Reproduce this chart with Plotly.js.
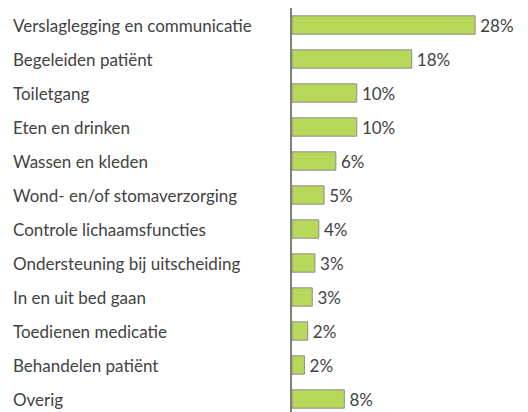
<!DOCTYPE html>
<html>
<head>
<meta charset="utf-8">
<script src="https://cdn.plot.ly/plotly-3.0.1.min.js"></script>
<style>html,body{margin:0;padding:0;background:#fff;}#chart{width:528px;height:412px;}</style>
</head>
<body>
<div id="chart"></div>
<script>
const categories = [
  "Verslaglegging en communicatie",
  "Begeleiden patiënt",
  "Toiletgang",
  "Eten en drinken",
  "Wassen en kleden",
  "Wond- en/of stomaverzorging",
  "Controle lichaamsfuncties",
  "Ondersteuning bij uitscheiding",
  "In en uit bed gaan",
  "Toedienen medicatie",
  "Behandelen patiënt",
  "Overig"
];
const values = [28.0, 18.3, 9.9, 9.9, 6.7, 4.9, 4.1, 3.5, 3.1, 2.4, 1.9, 8.0];
const valueLabels = ["28%", "18%", "10%", "10%", "6%", "5%", "4%", "3%", "3%", "2%", "2%", "8%"];

const W = 528, H = 412;
const marginL = 292, marginR = 0, marginT = 8, marginB = 0;
const plotW = W - marginL - marginR;
const plotH = H - marginT - marginB;
const pxPerUnit = 6.54;
const rowPx = 34;
const labelX = (11 - marginL) / plotW;

const font = "Lato, 'Open Sans', sans-serif";
const textColor = "#424242";

const trace = {
  type: "bar",
  orientation: "h",
  y: categories,
  x: values,
  text: valueLabels,
  texttemplate: "\u2009%{text}",
  textposition: "outside",
  constraintext: "none",
  cliponaxis: false,
  textfont: {family: font, size: 17, color: textColor},
  marker: {color: "#b8d85a", line: {color: "#8c8c8c", width: 1}},
  hoverinfo: "none"
};

const annotations = categories.map(c => ({
  xref: "paper", yref: "y",
  x: labelX, y: c,
  xanchor: "left", yanchor: "middle",
  text: c, showarrow: false,
  font: {family: font, size: 17, color: textColor}
}));

const layout = {
  width: W, height: H,
  margin: {l: marginL, r: marginR, t: marginT, b: marginB, pad: 0},
  paper_bgcolor: "#fff", plot_bgcolor: "#fff",
  showlegend: false,
  bargap: 0.46,
  xaxis: {range: [0, plotW / pxPerUnit], visible: false, fixedrange: true},
  yaxis: {
    type: "category",
    range: [-0.5 + plotH / rowPx, -0.5],
    showticklabels: false, ticks: "",
    showline: true, linecolor: "#808080", linewidth: 2,
    showgrid: false, zeroline: false, fixedrange: true
  },
  annotations: annotations
};

Plotly.newPlot("chart", [trace], layout, {displayModeBar: false, staticPlot: true});
</script>
</body>
</html>
